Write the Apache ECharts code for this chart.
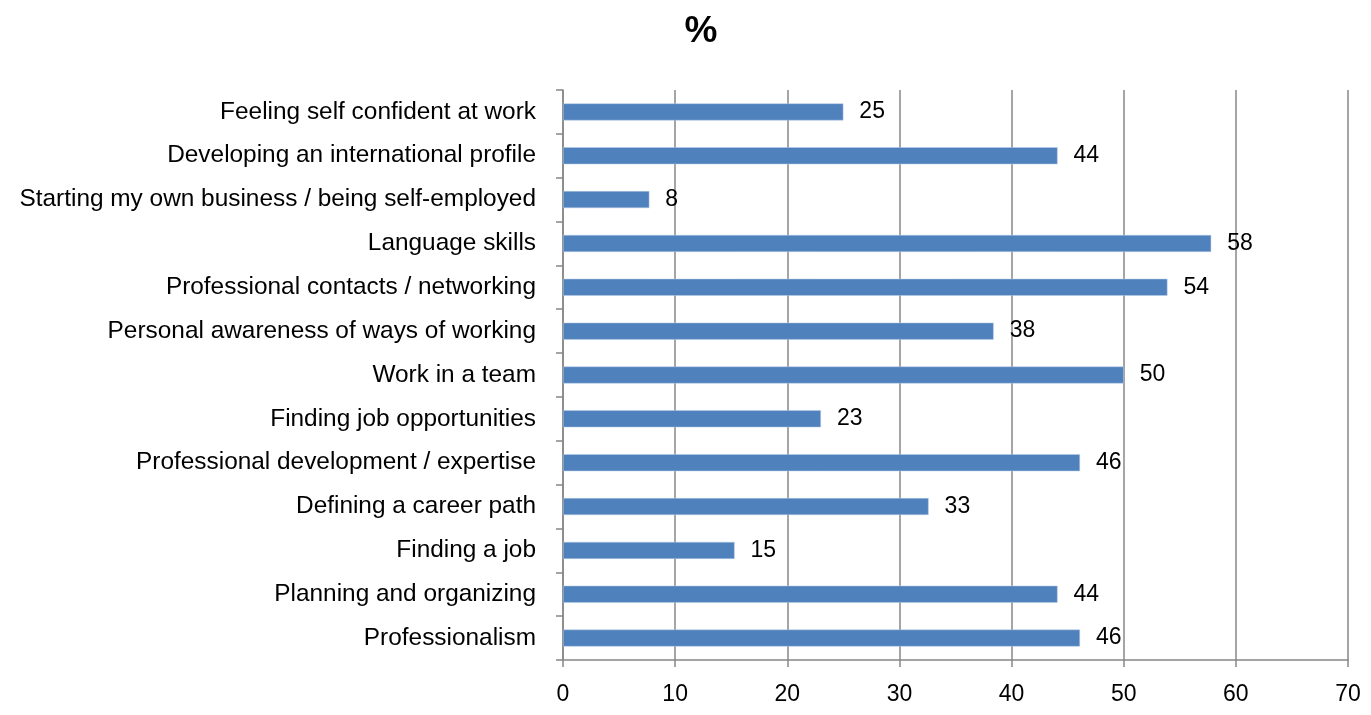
<!DOCTYPE html>
<html>
<head>
<meta charset="utf-8">
<script src="https://cdn.jsdelivr.net/npm/echarts@6/dist/echarts.min.js"></script>
<style>
html,body{margin:0;padding:0;background:#fff;}
#main{width:1371px;height:715px;}
</style>
</head>
<body>
<div id="main"></div>
<script>
// Categories listed bottom to top (ECharts category axis starts at bottom)
const categories = [
  "Professionalism",
  "Planning and organizing",
  "Finding a job",
  "Defining a career path",
  "Professional development / expertise",
  "Finding job opportunities",
  "Work in a team",
  "Personal awareness of ways of working",
  "Professional contacts / networking",
  "Language skills",
  "Starting my own business / being self-employed",
  "Developing an international profile",
  "Feeling self confident at work"
];
const values = [46.1, 44.1, 15.3, 32.6, 46.1, 23.0, 50.0, 38.4, 53.9, 57.8, 7.7, 44.1, 25.0];
const xTicks = [0, 10, 20, 30, 40, 50, 60, 70];

const FONT = "Liberation Sans";
const chart = echarts.init(document.getElementById('main'));
chart.setOption({
  backgroundColor: '#ffffff',
  animation: false,
  title: {
    text: '%',
    left: 696,
    top: 8,
    textAlign: 'center',
    textStyle: { fontFamily: FONT, fontWeight: 'bold', fontSize: 37, color: '#000' }
  },
  grid: { left: 563, right: 23, top: 90, bottom: 55, containLabel: false },
  xAxis: {
    type: 'value',
    min: xTicks[0],
    max: xTicks[xTicks.length - 1],
    interval: 10,
    axisLine: { show: true, lineStyle: { color: '#878787', width: 1.5 } },
    axisTick: { show: true, length: 7, lineStyle: { color: '#878787', width: 1.5 } },
    splitLine: { show: true, lineStyle: { color: '#878787', width: 1.5 } },
    axisLabel: { color: '#000', fontFamily: FONT, fontSize: 23, margin: 23 }
  },
  yAxis: {
    type: 'category',
    data: categories,
    axisLine: { show: true, lineStyle: { color: '#878787', width: 1.5 } },
    axisTick: { show: true, length: 7, lineStyle: { color: '#878787', width: 1.5 } },
    axisLabel: { color: '#000', fontFamily: FONT, fontSize: 24.4, margin: 27 }
  },
  series: [{
    type: 'bar',
    data: values,
    barWidth: 17,
    itemStyle: { color: '#4f81bd', borderColor: '#b9cde5', borderWidth: 0.5 },
    label: {
      show: true,
      position: 'right',
      distance: 16,
      color: '#000',
      fontFamily: FONT,
      fontSize: 23,
      formatter: p => Math.round(p.value)
    }
  }]
});
</script>
</body>
</html>
